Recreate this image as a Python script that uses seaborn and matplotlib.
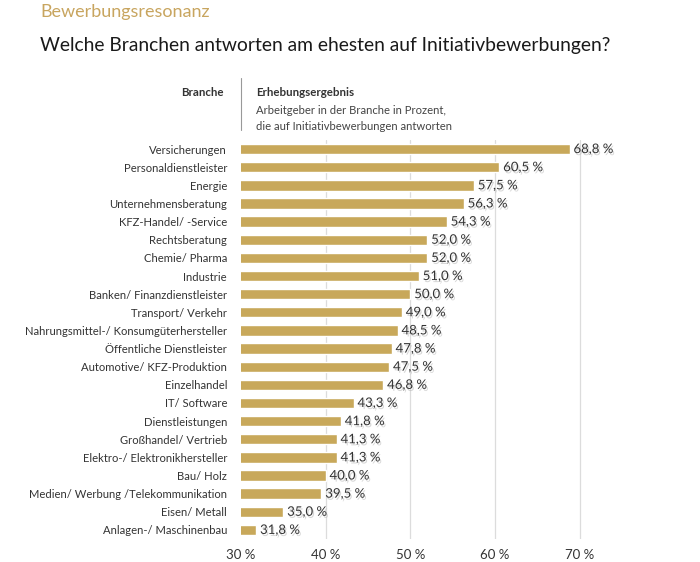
import matplotlib
matplotlib.use("Agg")
import matplotlib.pyplot as plt
import matplotlib.patheffects as pe
import seaborn as sns
import pandas as pd

categories = ["Versicherungen", "Personaldienstleister", "Energie", "Unternehmensberatung",
              "KFZ-Handel/ -Service", "Rechtsberatung", "Chemie/ Pharma", "Industrie",
              "Banken/ Finanzdienstleister", "Transport/ Verkehr",
              "Nahrungsmittel-/ Konsumgüterhersteller", "Öffentliche Dienstleister",
              "Automotive/ KFZ-Produktion", "Einzelhandel", "IT/ Software", "Dienstleistungen",
              "Großhandel/ Vertrieb", "Elektro-/ Elektronikhersteller", "Bau/ Holz",
              "Medien/ Werbung /Telekommunikation", "Eisen/ Metall", "Anlagen-/ Maschinenbau"]
values = [68.8, 60.5, 57.5, 56.3, 54.3, 52.0, 52.0, 51.0, 50.0, 49.0, 48.5, 47.8,
          47.5, 46.8, 43.3, 41.8, 41.3, 41.3, 40.0, 39.5, 35.0, 31.8]
xticks = [30, 40, 50, 60, 70]
xtick_labels = ["30 %", "40 %", "50 %", "60 %", "70 %"]

sns.set_theme(style="white")
plt.rcParams['font.family'] = ['Lato', 'DejaVu Sans']

df = pd.DataFrame({"Branche": categories, "Wert": values})

fig = plt.figure(figsize=(7.0, 5.62), dpi=100)
ax = fig.add_axes([241/700, 23/562, (620-241)/700, 399/562])

sns.barplot(data=df, x="Wert", y="Branche", color="#C8A85A", saturation=1,
            width=0.57, ax=ax, orient="h")

ax.set_xlim(30, 30 + (620-241)/8.47)
ax.set_xticks(xticks)
ax.set_xticklabels(xtick_labels, fontsize=9.5, color="#333333")
ax.tick_params(axis="x", length=0, pad=7)
ax.tick_params(axis="y", length=0, pad=10)
for lbl in ax.get_yticklabels():
    lbl.set_fontsize(8.1)
    lbl.set_color("#333333")
ax.set_xlabel("")
ax.set_ylabel("")
for s in ax.spines.values():
    s.set_visible(False)
for x in [40, 50, 60, 70]:
    ax.axvline(x, color="#dcdcdc", lw=0.9, zorder=0)

for i, v in enumerate(values):
    t = ax.text(v + 0.45, i, f"{v:.1f} %".replace(".", ","), va="center", ha="left",
                fontsize=9.5, color="#333333")
    t.set_path_effects([pe.SimplePatchShadow(offset=(1, -1.5), shadow_rgbFace="#bbbbbb", alpha=0.6), pe.Normal()])

fig.text(40/700, 1 - 12/562, "Bewerbungsresonanz", fontsize=13, color="#C8A55F",
         ha="left", va="center")
fig.text(40/700, 1 - 45/562, "Welche Branchen antworten am ehesten auf Initiativbewerbungen?",
         fontsize=13.9, color="#1a1a1a", ha="left", va="center")
fig.text(224/700, 1 - 93/562, "Branche", fontsize=8.3, fontweight="bold", color="#333333",
         ha="right", va="center")
fig.text(256/700, 1 - 93/562, "Erhebungsergebnis", fontsize=8.3, fontweight="bold",
         color="#333333", ha="left", va="center")
fig.text(256/700, 1 - 110/562, "Arbeitgeber in der Branche in Prozent,", fontsize=8.1,
         color="#444444", ha="left", va="center")
fig.text(256/700, 1 - 126/562, "die auf Initiativbewerbungen antworten", fontsize=8.1,
         color="#444444", ha="left", va="center")
fig.add_artist(plt.Line2D([241/700, 241/700], [1 - 78/562, 1 - 130/562],
                          color="#999999", lw=0.8))

fig.savefig("out.png", dpi=100, facecolor="white")
